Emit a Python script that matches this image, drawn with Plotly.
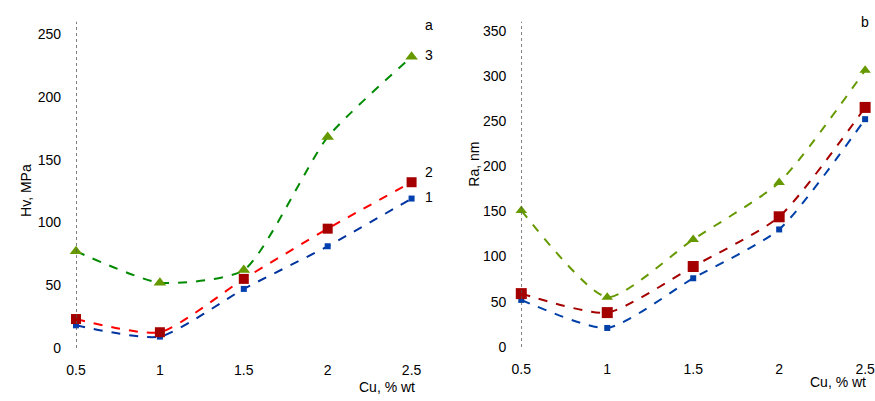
import plotly.graph_objects as go

# Copper content, % wt
cu = [0.5, 1.0, 1.5, 2.0, 2.5]

# Panel a: hardness series 1-3
a_s1 = [18, 9, 47, 81, 119]
a_s2 = [23, 12.5, 55, 95, 132]
a_s3 = [77, 52, 62, 168, 232]

# Panel b: series 1-3
b_s1 = [52, 21, 76, 130, 252]
b_s2 = [59, 38, 89, 144, 265]
b_s3 = [151, 55, 119, 182, 306]

x_ticks = [0.5, 1, 1.5, 2, 2.5]
x_labels = ["0.5", "1", "1.5", "2", "2.5"]
a_yticks = [0, 50, 100, 150, 200, 250]
b_yticks = [0, 50, 100, 150, 200, 250, 300, 350]

FONT = "Liberation Sans, Arial, sans-serif"

fig = go.Figure()


def add_series(x, y, xa, ya, line_color, marker_color, symbol, msize):
    fig.add_trace(go.Scatter(
        x=x, y=y, xaxis=xa, yaxis=ya, mode="lines+markers",
        line=dict(color=line_color, width=2, dash="dash", shape="spline", smoothing=0.6),
        marker=dict(color=marker_color, symbol=symbol, size=msize),
        cliponaxis=False, showlegend=False,
    ))


add_series(cu, a_s1, "x", "y", "#0033a0", "#0040b0", "square", 6)
add_series(cu, a_s2, "x", "y", "#ff0000", "#a50000", "square", 10)
add_series(cu, a_s3, "x", "y", "#008a00", "#669900", "triangle-up", 11)

add_series(cu, b_s1, "x2", "y2", "#0040a8", "#0040a8", "square", 6)
add_series(cu, b_s2, "x2", "y2", "#a50000", "#a50000", "square", 11)
add_series(cu, b_s3, "x2", "y2", "#669900", "#669900", "triangle-up", 10)

tick_font = dict(family=FONT, size=14, color="#000000")

xcommon = dict(tickvals=x_ticks, ticktext=x_labels, showgrid=False, zeroline=False,
               showline=False, ticks="", tickfont=tick_font, ticklabelstandoff=12,
               ticklabeloverflow="allow")
ycommon = dict(showgrid=False, zeroline=False, showline=False, ticks="",
               tickfont=tick_font, ticklabelstandoff=14)

fig.update_layout(
    width=875, height=401,
    margin=dict(l=0, r=0, t=0, b=0),
    paper_bgcolor="white", plot_bgcolor="white",
    xaxis=dict(domain=[67 / 875, 440 / 875], range=[0.5, 2.69], anchor="y", **xcommon),
    yaxis=dict(domain=[46 / 401, 379 / 401], range=[0, 260], tickvals=a_yticks, anchor="x", **ycommon),
    xaxis2=dict(domain=[519 / 875, 1.0], range=[0.5, 2.54], anchor="y2", **xcommon),
    yaxis2=dict(domain=[47 / 401, 379 / 401], range=[0, 360], tickvals=b_yticks, anchor="x2", **ycommon),
)

# dotted vertical axis lines
for xa, ya, top in (("x", "y", 260), ("x2", "y2", 360)):
    fig.add_shape(type="line", xref=xa, yref=ya, x0=0.5, x1=0.5, y0=0, y1=top,
                  line=dict(color="#555555", width=1.5, dash="dot"))

txt = dict(family=FONT, size=14, color="#000000")

# axis titles
fig.add_annotation(text="Cu, % wt", xref="paper", yref="paper", x=352 / 875, y=(401 - 395) / 401,
                   xanchor="left", yanchor="middle", showarrow=False, font=txt)
fig.add_annotation(text="Cu, % wt", xref="paper", yref="paper", x=810 / 875, y=(401 - 390) / 401,
                   xanchor="left", yanchor="middle", showarrow=False, font=txt)
fig.add_annotation(text="Hv, MPa", xref="paper", yref="paper", x=16 / 875, y=(401 - 194) / 401,
                   xanchor="center", yanchor="middle", textangle=-90, showarrow=False, font=txt)
fig.add_annotation(text="Ra, nm", xref="paper", yref="paper", x=471 / 875, y=(401 - 168) / 401,
                   xanchor="center", yanchor="middle", textangle=-90, showarrow=False, font=txt)

# series numbers and panel letters
for label, px, py in (("a", 425, 25), ("3", 425, 56), ("2", 425, 175), ("1", 425, 201)):
    fig.add_annotation(text=label, xref="paper", yref="paper", x=px / 875, y=(401 - py) / 401,
                       xanchor="center", yanchor="middle", showarrow=False, font=txt)
fig.add_annotation(text="b", xref="paper", yref="paper", x=874 / 875, y=(401 - 22) / 401,
                   xanchor="right", yanchor="middle", showarrow=False, font=txt)

fig.write_html("out.html")
